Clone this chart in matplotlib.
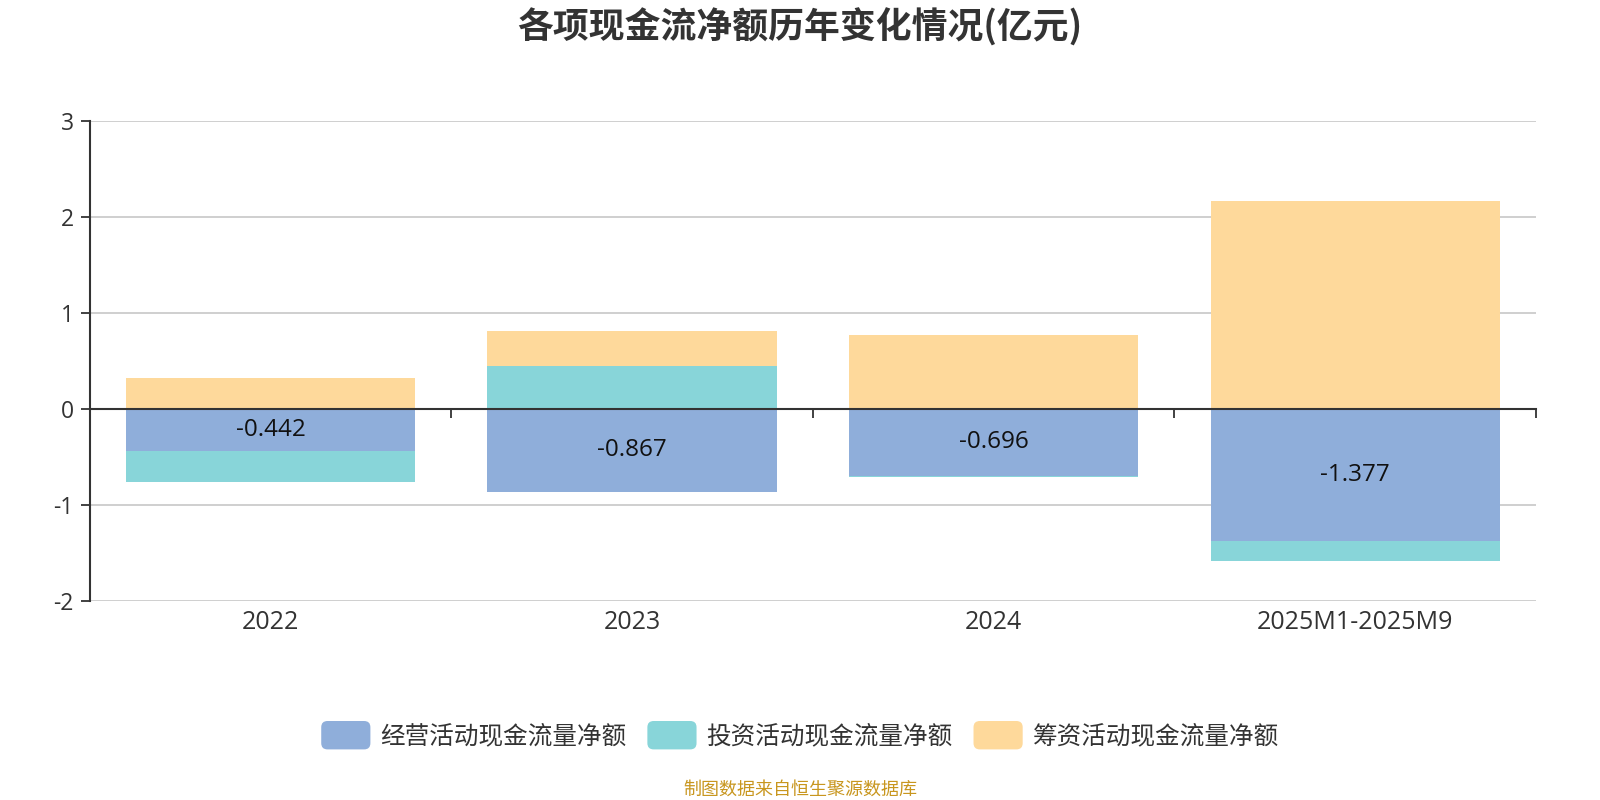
import numpy as np
import matplotlib
matplotlib.use("Agg")
import matplotlib.pyplot as plt
from matplotlib.patches import Patch, FancyBboxPatch
from matplotlib.legend_handler import HandlerBase

plt.rcParams['font.family'] = ['Open Sans', 'Noto Sans CJK SC', 'DejaVu Sans']
CJK = ['Noto Sans CJK SC', 'DejaVu Sans']

categories = ["2022", "2023", "2024", "2025M1-2025M9"]
operating = [-0.442, -0.867, -0.696, -1.377]
investing = [-0.322, 0.445, -0.020, -0.206]
financing = [0.320, 0.362, 0.768, 2.167]
series_names = ["经营活动现金流量净额", "投资活动现金流量净额", "筹资活动现金流量净额"]
colors = ["#8FAEDA", "#88D5D9", "#FED99B"]
yticks = [-2, -1, 0, 1, 2, 3]

TEXT = "#333333"

fig = plt.figure(figsize=(16, 8), dpi=100)
ax = fig.add_axes([0.0561, 0.2491, 0.9039, 0.6])

x = np.arange(len(categories))
pos_bottom = np.zeros(len(categories))
neg_bottom = np.zeros(len(categories))
for vals, name, col in zip([operating, investing, financing], series_names, colors):
    v = np.array(vals, dtype=float)
    bottoms = np.where(v >= 0, pos_bottom, neg_bottom)
    ax.bar(x, v, bottom=bottoms, width=0.8, color=col, label=name, zorder=3,
           edgecolor='none')
    pos_bottom = np.where(v >= 0, pos_bottom + v, pos_bottom)
    neg_bottom = np.where(v < 0, neg_bottom + v, neg_bottom)

# data labels for operating series
for xi, v in zip(x, operating):
    ax.text(xi, v / 2, f"{v:.3f}", ha='center', va='center', fontsize=17.5,
            color='#111111', zorder=5)

ax.set_xlim(-0.5, len(categories) - 0.5)
ax.set_ylim(min(yticks), max(yticks))
ax.set_yticks(yticks)
ax.set_yticklabels([str(t) for t in yticks])
ax.grid(axis='y', color='#CCCCCC', linewidth=1.3, zorder=0)
ax.set_axisbelow(True)

for s in ['top', 'right']:
    ax.spines[s].set_visible(False)
ax.spines['left'].set_color(TEXT)
ax.spines['left'].set_linewidth(1.5)
ax.spines['bottom'].set_position(('data', 0))
ax.spines['bottom'].set_color(TEXT)
ax.spines['bottom'].set_linewidth(1.5)
ax.spines['bottom'].set_zorder(4)

ax.set_xticks(np.arange(-0.5, len(categories), 1.0))
ax.set_xticklabels([])
ax.tick_params(axis='x', direction='out', length=6.5, width=1.3, color=TEXT)
ax.tick_params(axis='y', direction='out', length=6.5, width=1.3, color=TEXT,
               labelsize=16.5, labelcolor=TEXT, pad=5)

sec = ax.secondary_xaxis(0.0)
sec.set_xticks(x)
sec.set_xticklabels(categories)
sec.tick_params(length=0, labelsize=18, labelcolor=TEXT, pad=7)
sec.spines['bottom'].set_visible(False)

fig.text(0.5, 0.9656, "各项现金流净额历年变化情况(亿元)", ha='center', va='center',
         fontsize=25.8, fontweight='bold', color=TEXT, family=CJK)


class RoundHandler(HandlerBase):
    def create_artists(self, legend, orig_handle, xdescent, ydescent, width,
                       height, fontsize, trans):
        p = FancyBboxPatch((-xdescent, -ydescent), width, height,
                           boxstyle=f"round,pad=0,rounding_size={height*0.22}",
                           facecolor=orig_handle.get_facecolor(),
                           edgecolor='none', transform=trans)
        return [p]


handles = [Patch(facecolor=c) for c in colors]
fig.legend(handles, series_names, loc='center', bbox_to_anchor=(0.5, 0.081),
           ncol=3, frameon=False, labelcolor=TEXT,
           prop={'family': CJK, 'size': 17.7},
           handlelength=2.0, handleheight=1.4, handletextpad=0.4,
           columnspacing=0.85,
           handler_map={Patch: RoundHandler()})

fig.text(0.5, 0.0135, "制图数据来自恒生聚源数据库", ha='center', va='center',
         fontsize=13, color='#C8961E', family=CJK)

fig.savefig("out.png", dpi=100)
